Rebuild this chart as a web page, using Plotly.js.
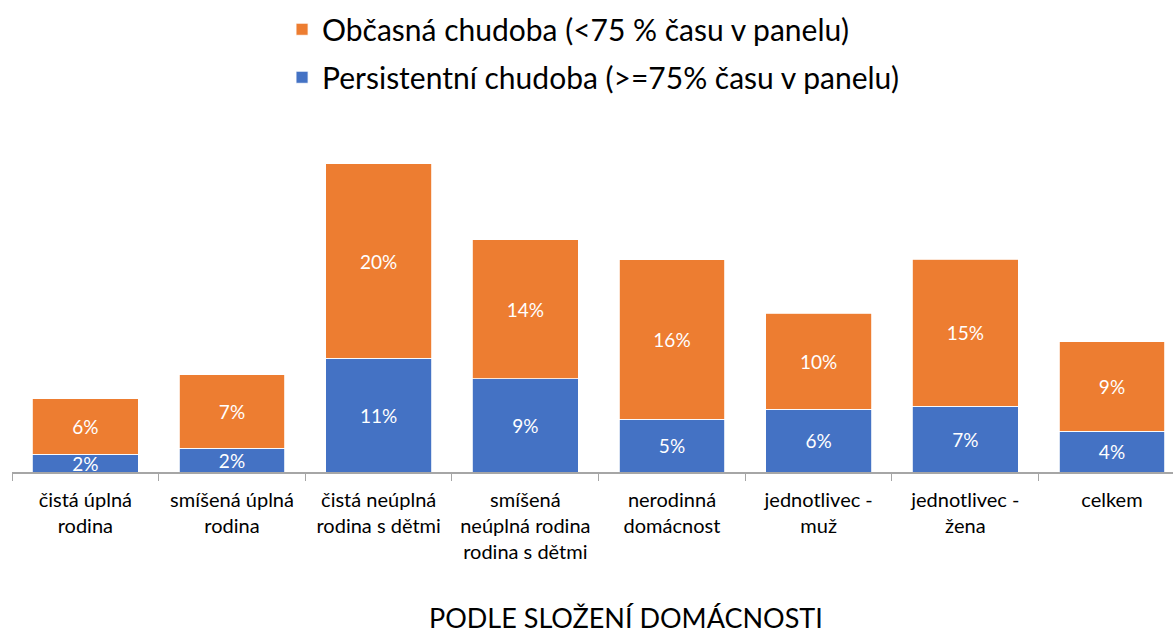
<!DOCTYPE html>
<html>
<head>
<meta charset="utf-8">
<script src="https://cdn.plot.ly/plotly-3.0.1.min.js"></script>
<style>html,body{margin:0;padding:0;background:#fff;}#chart{width:1173px;height:635px;}</style>
</head>
<body>
<div id="chart"></div>
<script>
const categories = ["čistá úplná rodina", "smíšená úplná rodina", "čistá neúplná rodina s dětmi", "smíšená neúplná rodina rodina s dětmi", "nerodinná domácnost", "jednotlivec - muž", "jednotlivec - žena", "celkem"];
const tickLabels = ["čistá úplná<br>rodina", "smíšená úplná<br>rodina", "čistá neúplná<br>rodina s dětmi", "smíšená<br>neúplná rodina<br>rodina s dětmi", "nerodinná<br>domácnost", "jednotlivec -<br>muž", "jednotlivec -<br>žena", "celkem"];
const persistent = [1.77, 2.37, 11.42, 9.38, 5.29, 6.29, 6.59, 4.08];
const occasional = [5.57, 7.41, 19.57, 13.97, 16.02, 9.69, 14.78, 8.99];
const seriesNames = ["Persistentní chudoba (>=75% času v panelu)", "Občasná chudoba (<75 % času v panelu)"];
const axisTitle = "PODLE SLOŽENÍ DOMÁCNOSTI";

const FONT = "Lato, 'Open Sans', sans-serif";
const labelFont = {family: FONT, size: 19, color: "#ffffff"};

const traces = [
  {type: "bar", name: seriesNames[0], legendgroup: "p", legendrank: 2, x: categories, y: persistent,
   marker: {color: "#4472C4", line: {color: "#ffffff", width: 0.8}},
   texttemplate: "%{y:.0f}%", textposition: "inside", insidetextanchor: "middle", constraintext: "none",
   textfont: labelFont, hoverinfo: "skip"},
  {type: "bar", name: seriesNames[1], legendgroup: "o", legendrank: 1, x: categories, y: occasional,
   marker: {color: "#ED7D31", line: {color: "#ffffff", width: 0.8}},
   texttemplate: "%{y:.0f}%", textposition: "inside", insidetextanchor: "middle", constraintext: "none",
   textfont: labelFont, hoverinfo: "skip"}
];

const layout = {
  width: 1173, height: 635,
  margin: {l: 12, r: 0, t: 100, b: 163},
  paper_bgcolor: "#ffffff", plot_bgcolor: "#ffffff",
  barmode: "stack", bargap: 0.2775,
  font: {family: FONT, color: "#000000"},
  showlegend: true,
  legend: {orientation: "v", traceorder: "grouped", tracegroupgap: 6,
           x: 0.2326, xanchor: "left", y: 1.26, yanchor: "top",
           font: {family: FONT, size: 30, color: "#000000"}, bgcolor: "rgba(0,0,0,0)"},
  xaxis: {type: "category", range: [-0.5, 7.416], tickmode: "array", tickvals: categories, ticktext: tickLabels,
          tickson: "boundaries", ticks: "outside", ticklen: 7, tickcolor: "#A6A6A6", tickwidth: 1,
          ticklabelstandoff: 9,
          showline: true, linecolor: "#A6A6A6", linewidth: 1.5, showgrid: false, zeroline: false,
          tickfont: {family: FONT, size: 20, color: "#000000"}, fixedrange: true},
  yaxis: {range: [0, 37.39], visible: false, showgrid: false, zeroline: false, fixedrange: true},
  annotations: [{text: axisTitle, xref: "paper", yref: "paper", x: 0.529, y: -0.392,
                 xanchor: "center", yanchor: "middle", showarrow: false,
                 font: {family: FONT, size: 27, color: "#000000"}}]
};

Plotly.newPlot("chart", traces, layout, {displayModeBar: false, staticPlot: true});
</script>
</body>
</html>
